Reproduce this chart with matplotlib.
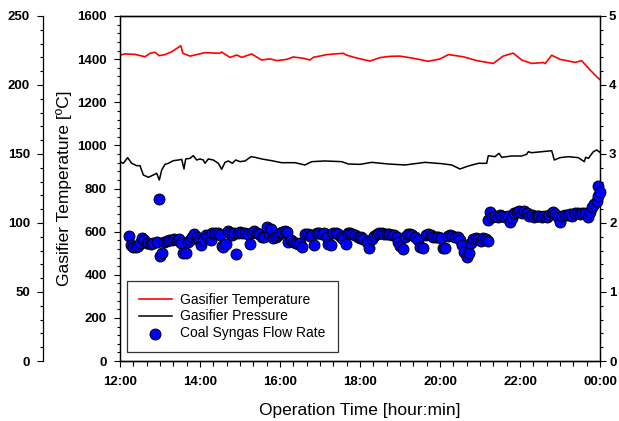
import matplotlib
matplotlib.use("Agg")
from matplotlib import pyplot as plt
from matplotlib.ticker import MultipleLocator, FixedLocator, FixedFormatter

plt.rcParams['font.family'] = ['Liberation Sans', 'DejaVu Sans']

# gasifier temperature [C] vs hours
temp_time = [12.0, 12.125, 12.375, 12.625, 12.75, 12.875, 12.975, 13.125, 13.3, 13.52,
             13.57, 13.75, 14.125, 14.5, 14.54, 14.75, 14.92, 15.04, 15.29, 15.54,
             15.75, 15.92, 16.17, 16.33, 16.58, 16.75, 16.83, 17.17, 17.58, 17.67,
             17.92, 18.25, 18.5, 18.75, 19.0, 19.33, 19.71, 20.0, 20.21, 20.58,
             20.92, 21.33, 21.58, 21.83, 22.04, 22.29, 22.58, 22.63, 22.79, 23.0,
             23.38, 23.54, 23.75, 23.96, 24.0]
temp = [1419, 1424, 1422, 1411, 1427, 1432, 1416, 1421, 1435, 1462,
        1427, 1414, 1430, 1427, 1433, 1408, 1419, 1408, 1424, 1396,
        1401, 1393, 1399, 1410, 1404, 1396, 1408, 1421, 1427, 1418,
        1405, 1391, 1407, 1413, 1414, 1404, 1390, 1401, 1421, 1411,
        1393, 1380, 1414, 1428, 1396, 1380, 1384, 1379, 1418, 1399,
        1385, 1393, 1350, 1311, 1305]

# gasifier pressure (right axis)
pres_time = [12.0, 12.083, 12.192, 12.292, 12.417, 12.5, 12.583, 12.708, 12.833, 12.917,
             12.983, 13.042, 13.125, 13.208, 13.333, 13.458, 13.542, 13.6, 13.642, 13.75,
             13.833, 13.917, 14.0, 14.083, 14.125, 14.208, 14.333, 14.458, 14.542, 14.625,
             14.708, 14.808, 14.892, 15.0, 15.125, 15.275, 15.375, 15.542, 15.792, 16.042,
             16.375, 16.625, 16.792, 17.125, 17.542, 17.708, 18.0, 18.292, 18.708, 19.125,
             19.625, 20.042, 20.292, 20.5, 20.708, 20.958, 21.167, 21.208, 21.375, 21.475,
             21.542, 21.792, 22.042, 22.167, 22.208, 22.292, 22.542, 22.792, 22.858, 23.0,
             23.208, 23.458, 23.608, 23.642, 23.708, 23.833, 23.917, 24.0]
pressure = [2.889, 2.865, 2.947, 2.865, 2.831, 2.831, 2.696, 2.662, 2.696, 2.720,
            2.623, 2.768, 2.850, 2.865, 2.903, 2.913, 2.923, 2.783, 2.928, 2.937,
            2.976, 2.913, 2.928, 2.913, 2.865, 2.928, 2.913, 2.865, 2.778, 2.879,
            2.899, 2.865, 2.913, 2.889, 2.899, 2.961, 2.952, 2.928, 2.903, 2.874,
            2.874, 2.841, 2.889, 2.899, 2.889, 2.855, 2.850, 2.879, 2.855, 2.841,
            2.879, 2.860, 2.841, 2.783, 2.826, 2.865, 2.865, 2.976, 2.961, 3.010,
            2.952, 2.971, 2.971, 2.996, 3.033, 3.019, 3.033, 3.048, 2.913, 2.947,
            2.961, 2.947, 2.889, 2.952, 2.937, 3.033, 3.058, 3.024]

# coal syngas flow rate (outer left axis)
flow_time = [12.225, 12.275, 12.333, 12.392, 12.442, 12.5, 12.558, 12.608, 12.667, 12.708,
             12.775, 12.833, 12.917, 12.975, 13.0, 13.058, 13.108, 13.167, 13.225, 13.292,
             13.358, 13.417, 13.475, 13.525, 13.583, 13.642, 13.692, 13.75, 13.808, 13.858,
             13.917, 13.975, 14.025, 14.083, 14.142, 14.208, 14.275, 14.308, 14.375, 14.442,
             14.5, 14.542, 14.583, 14.642, 14.692, 14.75, 14.808, 14.858, 14.892, 14.942,
             15.0, 15.058, 15.125, 15.192, 15.25, 15.308, 15.358, 15.417, 15.475, 15.542,
             15.608, 15.667, 15.725, 15.775, 15.833, 15.892, 15.942, 16.0, 16.058, 16.125,
             16.167, 16.208, 16.275, 16.333, 16.392, 16.442, 16.5, 16.558, 16.625, 16.692,
             16.75, 16.808, 16.858, 16.917, 16.975, 17.042, 17.108, 17.167, 17.208, 17.275,
             17.333, 17.392, 17.458, 17.525, 17.583, 17.642, 17.692, 17.75, 17.808, 17.875,
             17.942, 18.0, 18.025, 18.083, 18.167, 18.225, 18.292, 18.358, 18.417, 18.475,
             18.542, 18.608, 18.667, 18.725, 18.792, 18.858, 18.917, 18.958, 19.0, 19.083,
             19.125, 19.192, 19.25, 19.308, 19.375, 19.442, 19.5, 19.583, 19.642, 19.708,
             19.775, 19.833, 19.892, 19.958, 20.025, 20.083, 20.125, 20.192, 20.25, 20.308,
             20.375, 20.442, 20.5, 20.542, 20.608, 20.667, 20.725, 20.775, 20.833, 20.892,
             20.958, 21.025, 21.083, 21.142, 21.192, 21.208, 21.25, 21.308, 21.375, 21.442,
             21.5, 21.558, 21.625, 21.692, 21.75, 21.792, 21.858, 21.917, 21.975, 22.042,
             22.108, 22.167, 22.225, 22.292, 22.358, 22.417, 22.475, 22.542, 22.608, 22.667,
             22.725, 22.792, 22.833, 22.875, 22.942, 23.0, 23.058, 23.125, 23.192, 23.25,
             23.308, 23.375, 23.442, 23.5, 23.558, 23.625, 23.692, 23.75, 23.808, 23.858,
             23.917, 23.958, 23.942, 24.0]
flow = [90.8, 84.1, 82.9, 82.4, 83.3, 85.3, 88.9, 87.7, 85.8, 85.3,
        84.8, 85.8, 86.5, 117.2, 76.1, 78.5, 86.5, 87.2, 87.7, 87.7,
        88.2, 87.7, 88.2, 85.3, 78.5, 78.5, 86.5, 87.7, 90.1, 92.0,
        89.6, 87.7, 83.8, 87.7, 91.3, 90.1, 87.7, 92.5, 93.0, 92.5,
        91.3, 83.3, 82.4, 84.8, 94.4, 92.5, 91.3, 92.5, 77.5, 93.0,
        93.7, 93.0, 92.5, 92.0, 84.8, 93.0, 94.4, 93.0, 92.0, 90.1,
        89.6, 97.3, 92.0, 95.4, 88.9, 90.1, 91.3, 93.0, 93.7, 94.4,
        93.7, 86.5, 87.7, 86.5, 85.8, 84.8, 85.8, 82.9, 92.0, 92.0,
        90.6, 91.3, 84.1, 92.5, 93.0, 92.0, 92.5, 90.1, 84.8, 84.1,
        92.5, 93.0, 92.0, 90.1, 88.2, 84.8, 93.0, 92.5, 92.0, 91.3,
        90.1, 88.9, 89.6, 88.2, 86.5, 82.1, 88.2, 90.6, 92.0, 92.5,
        92.5, 92.0, 92.0, 91.8, 91.3, 91.3, 90.1, 86.5, 83.3, 80.9,
        90.1, 92.0, 92.0, 91.3, 90.1, 87.7, 82.9, 81.6, 91.3, 92.0,
        91.3, 90.1, 89.6, 89.6, 88.9, 81.6, 81.6, 90.6, 91.3, 90.6,
        89.6, 89.6, 87.7, 84.1, 79.2, 75.6, 78.5, 85.8, 88.2, 88.9,
        88.2, 87.2, 88.9, 88.2, 87.2, 102.2, 108.2, 104.6, 105.1, 104.6,
        105.8, 105.1, 104.1, 105.1, 101.0, 103.4, 107.0, 108.2, 108.9, 107.5,
        108.9, 107.0, 105.1, 105.8, 104.6, 105.1, 105.1, 104.6, 105.1, 104.1,
        105.8, 107.0, 108.2, 106.5, 104.1, 101.0, 105.1, 105.8, 105.8, 106.5,
        105.1, 107.0, 107.5, 106.5, 107.5, 107.0, 104.1, 108.2, 111.8, 113.8,
        116.2, 119.6, 126.8, 122.7]

hour_ticks = [12, 14, 16, 18, 20, 22, 24]
hour_labels = ['12:00', '14:00', '16:00', '18:00', '20:00', '22:00', '00:00']

fig = plt.figure(figsize=(6.19, 4.21), dpi=100)
ax = fig.add_axes([120 / 619, 1 - 361 / 421, 480 / 619, 345 / 421])
ax_p = ax.twinx()
ax_f = ax.twinx()

# temperature axis (inner left)
ln_t, = ax.plot(temp_time, temp, color='red', lw=1.2, label='Gasifier Temperature')
ax.set_xlim(12, 24)
ax.set_ylim(0, 1600)
ax.yaxis.set_major_locator(MultipleLocator(200))
ax.yaxis.set_minor_locator(MultipleLocator(40))
ax.xaxis.set_major_locator(FixedLocator(hour_ticks))
ax.xaxis.set_major_formatter(FixedFormatter(hour_labels))
ax.xaxis.set_minor_locator(MultipleLocator(1 / 3))
ax.tick_params(axis='y', which='major', length=4.5, width=0.8, pad=5)
ax.tick_params(axis='y', which='minor', length=2.5, width=0.8)
ax.tick_params(axis='x', which='major', length=4, width=0.8, pad=7)
ax.tick_params(axis='x', which='minor', length=3.5, width=0.8)
for lab in ax.get_xticklabels() + ax.get_yticklabels():
    lab.set_fontsize(9.5)
    lab.set_fontweight('bold')
ax.set_ylabel('Gasifier Temperature [ºC]', fontsize=12.5)
ax.yaxis.set_label_coords(-0.1, 0.5)
ax.set_xlabel('Operation Time [hour:min]', fontsize=12.5)
ax.xaxis.set_label_coords(0.5, -0.122)

# pressure axis (right)
ln_p, = ax_p.plot(pres_time, pressure, color='black', lw=1.1, label='Gasifier Pressure')
ax_p.set_ylim(0, 5)
ax_p.yaxis.set_major_locator(MultipleLocator(1))
ax_p.yaxis.set_minor_locator(MultipleLocator(0.2))
ax_p.tick_params(axis='y', which='major', length=4.5, width=0.8, pad=2)
ax_p.tick_params(axis='y', which='minor', length=2.5, width=0.8)
for lab in ax_p.get_yticklabels():
    lab.set_fontsize(9.5)
    lab.set_fontweight('bold')

# flow rate axis (outer left)
ax_f.spines['left'].set_position(('axes', -77 / 480))
ax_f.spines['left'].set_visible(True)
ax_f.spines['right'].set_visible(False)
ax_f.yaxis.set_label_position('left')
ax_f.yaxis.set_ticks_position('left')
sc = ax_f.scatter(flow_time, flow, s=62, c='#0000ff', edgecolors='black', linewidths=0.7,
                  zorder=3, clip_on=False, label='Coal Syngas Flow Rate')
ax_f.set_ylim(0, 250)
ax_f.yaxis.set_major_locator(MultipleLocator(50))
ax_f.yaxis.set_minor_locator(MultipleLocator(10))
ax_f.tick_params(axis='y', which='major', length=4.5, width=0.8, pad=5)
ax_f.tick_params(axis='y', which='minor', length=2.5, width=0.8)
for lab in ax_f.get_yticklabels():
    lab.set_fontsize(9.5)
    lab.set_fontweight('bold')

for a in (ax, ax_p, ax_f):
    for s in a.spines.values():
        s.set_linewidth(0.9)

leg = fig.legend([ln_t, ln_p, sc], ['Gasifier Temperature', 'Gasifier Pressure', 'Coal Syngas Flow Rate'],
                 loc='lower left', bbox_to_anchor=(127 / 619, 1 - 352 / 421), borderaxespad=0,
                 fontsize=10, frameon=True, fancybox=False, edgecolor='black',
                 handlelength=2.4, handletextpad=0.6, labelspacing=0.2, borderpad=0.85,
                 scatterpoints=1)
leg.get_frame().set_linewidth(0.9)

fig.savefig('out.png', dpi=100)
